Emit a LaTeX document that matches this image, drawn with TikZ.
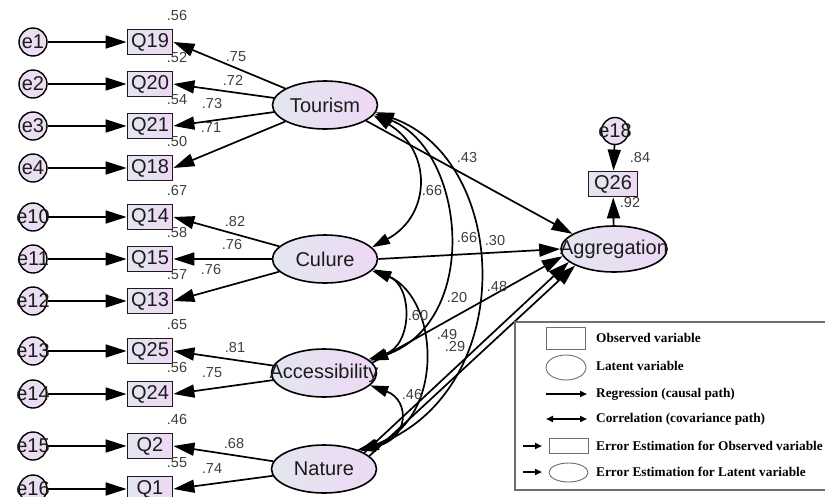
\documentclass[tikz,border=0pt]{standalone}
\usepackage{fontspec}
\setmainfont{Liberation Sans}
\newfontfamily\legendfont{Liberation Serif}
\usetikzlibrary{arrows.meta,shapes.geometric}

\definecolor{shadeL}{RGB}{226,230,240}
\definecolor{shadeR}{RGB}{238,216,244}
\definecolor{errfill}{RGB}{236,222,242}
\definecolor{ink}{RGB}{28,28,28}
\definecolor{legendgray}{RGB}{110,110,110}

\tikzset{
  nodefont/.style={font=\fontsize{20}{21}\selectfont, text=ink},
  obs/.style={rectangle, draw=ink, line width=1.8pt, minimum width=45pt,
    minimum height=25pt, inner sep=0pt, left color=shadeL, right color=shadeR, nodefont},
  lat/.style={ellipse, draw=black, line width=1.6pt, minimum width=105pt,
    minimum height=48pt, inner sep=0pt, left color=shadeL, right color=shadeR},
  err/.style={circle, draw=black, line width=1.4pt, minimum size=28pt,
    inner sep=0pt, fill=errfill},
  coef/.style={font=\fontsize{14.5}{15}\selectfont, text=ink!85, inner sep=0pt},
  regpath/.style={line width=1.7pt, -{Triangle[length=21pt,width=13pt]}},
  covpath/.style={line width=1.7pt,
    {Triangle[length=18pt,width=11pt]}-{Triangle[length=18pt,width=11pt]}},
  legtext/.style={anchor=west, inner sep=0pt,
    font=\legendfont\bfseries\fontsize{13.3}{14}\selectfont},
  legshape/.style={draw=legendgray, line width=0.9pt},
  legarrow/.style={line width=2pt, -{Triangle[length=7pt,width=6pt]}},
  legarrows/.style={line width=2pt, {Triangle[length=7pt,width=6pt]}-{Triangle[length=7pt,width=6pt]}},
}

\begin{document}
\begin{tikzpicture}[x=1pt,y=-1pt]
\clip (0,0) rectangle (825,496);
\fill[white] (0,0) rectangle (825,496);

% indicators with their error terms and squared multiple correlations
\foreach \y/\q/\e/\r in {42/Q19/e1/.56, 84/Q20/e2/.52, 126/Q21/e3/.54,
    168/Q18/e4/.50, 217/Q14/e10/.67, 259/Q15/e11/.58, 301/Q13/e12/.57,
    351/Q25/e13/.65, 394/Q24/e14/.56, 446/Q2/e15/.46, 489/Q1/e16/.55} {
  \node[err, label={[nodefont, inner sep=0pt]center:\e}] (\e) at (33,\y) {};
  \node[obs] (\q) at (150,\y) {\q};
  \draw[regpath] (\e) -- (\q);
  \node[coef] at (177,\y-26) {\r};
}

% latent factors
\node[lat, label={[nodefont]center:Tourism}] (T) at (325,105) {};
\node[lat, label={[nodefont]center:Culure}] (C) at (325,259) {};
\node[lat, label={[nodefont]center:Accessibility}] (A) at (324,373) {};
\node[lat, label={[nodefont]center:Nature}] (N) at (324,469) {};
\node[lat, minimum width=106pt, minimum height=46pt,
      label={[nodefont]center:Aggregation}] (Agg) at (614,249) {};

% outcome indicator
\node[obs, minimum width=49pt] (Q26) at (613,184) {Q26};
\node[err, minimum size=27pt, label={[nodefont, inner sep=0pt]center:e18}] (e18) at (615,131) {};
\draw[regpath] (e18) -- (Q26);
\draw[regpath] (Agg) -- (Q26);
\node[coef] at (640,158) {.84};
\node[coef] at (630,203) {.92};

% factor loadings
\draw[regpath] (T) -- (Q19.east);
\draw[regpath] (T) -- (Q20.east);
\draw[regpath] (T) -- (Q21.east);
\draw[regpath] (T) -- (Q18.east);
\draw[regpath] (C) -- (Q14.east);
\draw[regpath] (C) -- (Q15.east);
\draw[regpath] (C) -- (Q13.east);
\draw[regpath] (A) -- (Q25.east);
\draw[regpath] (A) -- (Q24.east);
\draw[regpath] (N) -- (Q2.east);
\draw[regpath] (N) -- (Q1.east);

\node[coef] at (236,57) {.75};
\node[coef] at (233,80) {.72};
\node[coef] at (212,104) {.73};
\node[coef] at (211,128) {.71};
\node[coef] at (235,222) {.82};
\node[coef] at (232,245) {.76};
\node[coef] at (211,270) {.76};
\node[coef] at (235,348) {.81};
\node[coef] at (212,373) {.75};
\node[coef] at (234,444) {.68};
\node[coef] at (212,469) {.74};

% structural paths
\draw[regpath] (T.-21) -- (Agg.160);
\draw[regpath] (C.east) -- (Agg.west);
\draw[regpath] (A.12) -- (Agg.188);
\draw[regpath] (N.22) -- (Agg.196);
\draw[regpath] (N.16) -- (Agg.203);

% covariances among the factors
\draw[covpath] (T.-12) .. controls (432,150) and (432,215) .. (C.14);
\draw[covpath] (T.-10) .. controls (465,150) and (482,320) .. (A.15);
\draw[covpath] (T.-8) .. controls (510,160) and (520,390) .. (N.26);
\draw[covpath] (C.-14) .. controls (413,285) and (413,345) .. (A.17);
\draw[covpath] (C.-12) .. controls (440,300) and (445,420) .. (N.28);
\draw[covpath] (A.-15) .. controls (410,400) and (410,440) .. (N.30);

\node[coef] at (467,158) {.43};
\node[coef] at (432,191) {.66};
\node[coef] at (467,238) {.66};
\node[coef] at (495,241) {.30};
\node[coef] at (457,298) {.20};
\node[coef] at (497,287) {.48};
\node[coef] at (418,316) {.60};
\node[coef] at (447,335) {.49};
\node[coef] at (455,347) {.29};
\node[coef] at (412,395) {.46};

% legend
\draw[draw=legendgray, line width=1.3pt, fill=white] (515,322) rectangle (832,490);
\draw[legshape] (546,327) rectangle (585,349);
\draw[legshape] (566,367.5) ellipse [x radius=20, y radius=12.5];
\coordinate (rA) at (546,394);  \coordinate (rB) at (587,394);
\coordinate (cA) at (546,419);  \coordinate (cB) at (587,419);
\coordinate (oA) at (523,446);  \coordinate (oB) at (542,446);
\coordinate (lA) at (523,472);  \coordinate (lB) at (542,472);
\draw[legarrow] (rA) -- (rB);
\draw[legarrows] (cA) -- (cB);
\draw[legarrow] (oA) -- (oB);
\draw[legshape] (549,438) rectangle (588,453);
\draw[legarrow] (lA) -- (lB);
\draw[legshape] (568.5,472.5) ellipse [x radius=19.5, y radius=9.5];
\node[legtext] (l1) at (596,338) {Observed variable};
\node[legtext] (l2) at (596,366) {Latent variable};
\node[legtext] (l3) at (596,394) {Regression (causal path)};
\node[legtext] (l4) at (596,419) {Correlation (covariance path)};
\node[legtext] (l5) at (596,446) {Error Estimation for Observed variable};
\node[legtext] (l6) at (596,472) {Error Estimation for Latent variable};
\end{tikzpicture}
\end{document}
